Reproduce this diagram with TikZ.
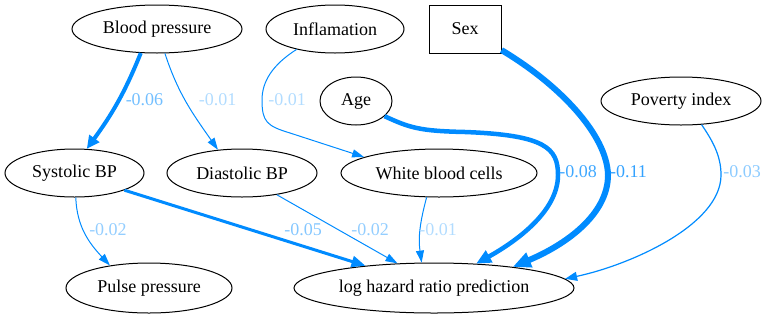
\documentclass[tikz,border=0pt]{standalone}
\usepackage{fontspec}
\setmainfont{Liberation Serif}
\usetikzlibrary{shapes.geometric,arrows.meta}
\definecolor{eb}{RGB}{0,139,255}
\colorlet{lab11}{eb!80}
\colorlet{lab08}{eb!75}
\colorlet{lab06}{eb!55}
\colorlet{lab05}{eb!48}
\colorlet{lab03}{eb!45}
\colorlet{lab02}{eb!42}
\colorlet{lab01}{eb!30}
\begin{document}
\begin{tikzpicture}[x=1pt,y=-1pt,font=\fontsize{18}{20}\selectfont,
  ell/.style={ellipse,draw,line width=1pt,inner sep=0pt},
  sqbox/.style={rectangle,draw,line width=1pt,inner sep=0pt},
  conn/.style={draw=eb,line width=#1},
  thin/.style={conn=1pt,-{Triangle[length=12pt,width=8pt]}},
  lbl/.style={text=#1,inner sep=0pt}]
\useasboundingbox (0,0) rectangle (767,319);
% nodes
\node[ell,minimum width=170pt,minimum height=48pt] (bp) at (157,29) {Blood pressure};
\node[ell,minimum width=138pt,minimum height=48pt] (inf) at (335,29) {Inflamation};
\node[sqbox,minimum width=72pt,minimum height=48pt] (sex) at (465,29) {Sex};
\node[ell,minimum width=72pt,minimum height=48pt] (age) at (356,101) {Age};
\node[ell,minimum width=160pt,minimum height=48pt] (pov) at (681,101) {Poverty index};
\node[ell,minimum width=139pt,minimum height=48pt] (sys) at (74.5,173) {Systolic BP};
\node[ell,minimum width=150pt,minimum height=48pt] (dia) at (242,173) {Diastolic BP};
\node[ell,minimum width=196pt,minimum height=48pt] (wbc) at (439,173) {White blood cells};
\node[ell,minimum width=166pt,minimum height=50pt] (pp) at (149,288) {Pulse pressure};
\node[ell,minimum width=280pt,minimum height=50pt] (lh) at (434,288) {log hazard ratio prediction};
% edges
\draw[conn=4pt,-{Triangle[length=13pt,width=12pt]}] (bp.236) to[out=248,in=54] (sys.63);
\draw[thin] (bp.288) to[out=288,in=125] (dia.136);
\draw[thin] (inf.208) .. controls (272,65) and (262,82) .. (262,100)
  .. controls (262,122) and (267,126) .. (290,133) -- (wbc.168);
\draw[conn=4.5pt,-{Triangle[length=15pt,width=13pt]}] (age.332) .. controls (410,128) and (420,131) .. (465,132)
  .. controls (545,135) and (558,148) .. (558,175)
  .. controls (558,212) and (515,242) .. (lh.30);
\draw[conn=6pt,-{Triangle[length=18pt,width=15pt]}] (sex.-30) .. controls (560,85) and (607,135) .. (608,175)
  .. controls (608,215) and (565,245) .. (lh.15);
\draw[conn=1.2pt,-{Triangle[length=12pt,width=9pt]}] (pov.311) .. controls (712,140) and (721,155) .. (721,175)
  .. controls (721,225) and (630,265) .. (lh.4);
\draw[conn=3pt,-{Triangle[length=14pt,width=11pt]}] (sys.341) -- (lh.162);
\draw[thin] (dia.328) -- (lh.146);
\draw[thin] (wbc.243) to[out=255,in=98] (lh.116);
\draw[thin] (sys.273) to[out=272,in=133] (pp.150);
% labels
\node[lbl=lab06] (l1) at (144.5,100) {-0.06};
\node[lbl=lab01] (l2) at (217.5,100) {-0.01};
\node[lbl=lab01] (l3) at (287,100) {-0.01};
\node[lbl=lab08] (l4) at (578,172) {-0.08};
\node[lbl=lab11] (l5) at (628.5,172) {-0.11};
\node[lbl=lab03] (l6) at (742,172) {-0.03};
\node[lbl=lab05] (l7) at (303,230) {-0.05};
\node[lbl=lab02] (l8) at (370,230) {-0.02};
\node[lbl=lab01] (l9) at (438,230) {-0.01};
\node[lbl=lab02] (l10) at (108,230) {-0.02};
\end{tikzpicture}
\end{document}
